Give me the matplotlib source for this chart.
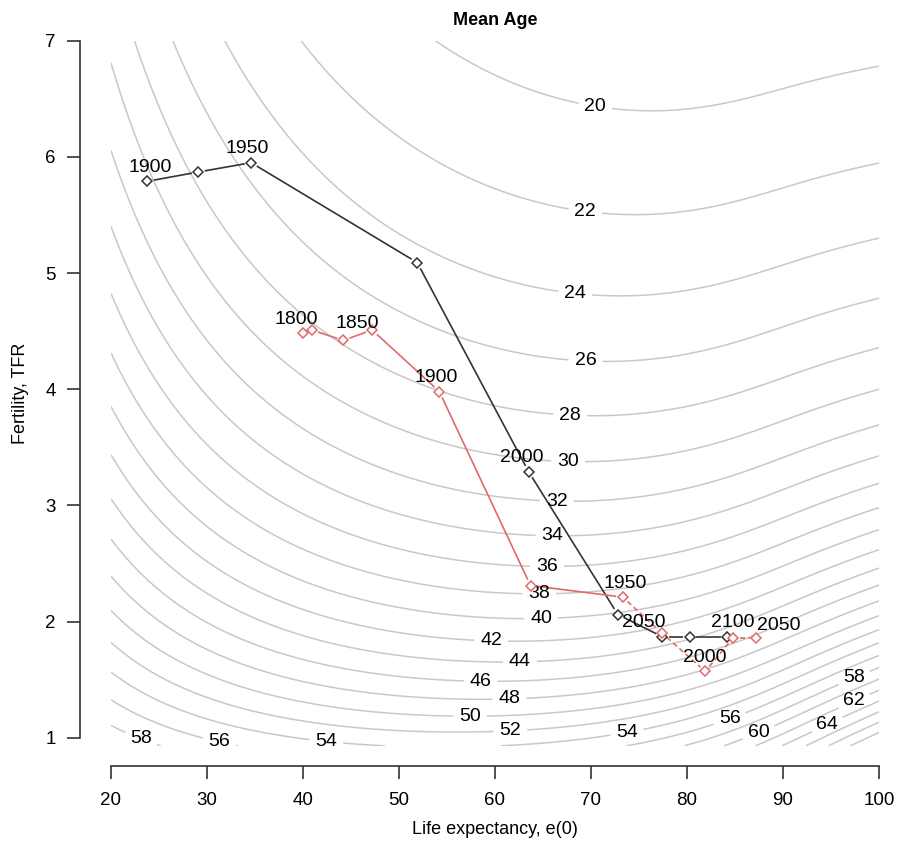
import numpy as np
import matplotlib
matplotlib.use("Agg")
import matplotlib.pyplot as plt

plt.rcParams['font.family'] = ['Liberation Sans', 'DejaVu Sans']

# ---------------- data ----------------
black_years = [1900, 1925, 1950, 1975, 2000, 2025, 2050, 2075, 2100]
black_e0 = [23.8, 29.1, 34.6, 51.9, 63.5, 72.8, 77.4, 80.3, 84.2]
black_tfr = [5.79, 5.87, 5.95, 5.09, 3.29, 2.06, 1.87, 1.87, 1.87]
black_labeled = [1900, 1950, 2000, 2050, 2100]

red_years = [1800, 1825, 1850, 1875, 1900, 1925, 1950, 1975, 2000, 2025, 2050]
red_e0 = [40.0, 40.9, 44.2, 47.2, 54.2, 63.7, 73.3, 77.4, 81.9, 84.8, 87.2]
red_tfr = [4.48, 4.51, 4.42, 4.51, 3.98, 2.31, 2.21, 1.90, 1.57, 1.86, 1.86]
red_labeled = [1800, 1850, 1900, 1950, 2000, 2050]

# contour labels: value and where it sits
clabel_value = [20, 22, 24, 26, 28, 30, 32, 34, 36, 38, 40, 42, 44, 46, 48, 50, 52,
                54, 56, 58, 54, 56, 60, 64, 62, 58]
clabel_e0 = [70.6, 69.4, 68.3, 69.4, 67.8, 67.6, 66.4, 66.0, 65.4, 64.6, 64.8, 59.6,
             62.6, 58.5, 61.5, 57.4, 61.6, 42.5, 31.4, 23.5, 73.8, 84.5, 87.6, 94.7,
             97.5, 97.5]
clabel_tfr = [6.51, 5.53, 4.79, 4.20, 3.72, 3.32, 2.96, 2.67, 2.39, 2.16, 1.97, 1.80,
              1.63, 1.46, 1.32, 1.19, 1.07, 1.02, 1.00, 1.07, 1.02, 1.15, 1.02, 1.10,
              1.30, 1.50]

contour_levels = list(range(16, 72, 2))

x_ticks = [20, 30, 40, 50, 60, 70, 80, 90, 100]
y_ticks = [1, 2, 3, 4, 5, 6, 7]

# ------------- stable-population model for the background surface -------------
dx = 0.5
ages = np.arange(0, 115, dx) + dx / 2


def model_mean_age(params, e0s, tfrs):
    m, a1, b2, beta, b1, sd = params
    a2 = b2 * np.exp(-b2 * 80.0)
    H = a1 / b1 * (1 - np.exp(-b1 * ages)) + 0.0015 * ages + a2 / b2 * (np.exp(b2 * ages) - 1)
    ls = np.clip(np.exp(-H), 1e-12, 1 - 1e-12)
    Ys = 0.5 * np.log((1 - ls) / ls)
    e0s = np.asarray(e0s, float)
    tfrs = np.asarray(tfrs, float)
    lo = np.full(e0s.shape, -10.0)
    hi = np.full(e0s.shape, 10.0)
    for _ in range(45):
        mid = 0.5 * (lo + hi)
        lx = 1.0 / (1.0 + np.exp(np.clip(2 * (mid[:, None] + beta * Ys[None, :]), -50, 50)))
        ok = lx.sum(axis=1) * dx > e0s
        lo = np.where(ok, mid, lo)
        hi = np.where(ok, hi, mid)
    alpha = 0.5 * (lo + hi)
    lx = 1.0 / (1.0 + np.exp(np.clip(2 * (alpha[:, None] + beta * Ys[None, :]), -50, 50)))
    fert = np.exp(-0.5 * ((ages - m) / sd) ** 2)
    fert[(ages < 15) | (ages > 50)] = 0
    fert /= fert.sum() * dx
    net = fert[None, :] * lx * dx * 0.4878
    rlo = np.full(e0s.shape, -0.3)
    rhi = np.full(e0s.shape, 0.3)
    for _ in range(45):
        mid = 0.5 * (rlo + rhi)
        phi = tfrs * (net * np.exp(-mid[:, None] * ages[None, :])).sum(axis=1)
        big = phi > 1
        rlo = np.where(big, mid, rlo)
        rhi = np.where(big, rhi, mid)
    r = 0.5 * (rlo + rhi)
    c = np.exp(-r[:, None] * ages[None, :]) * lx
    return (c * ages[None, :]).sum(axis=1) / c.sum(axis=1)


def misfit(p):
    v = model_mean_age(p, clabel_e0, clabel_tfr)
    return np.sum((v - np.array(clabel_value)) ** 2)


grids = [np.linspace(23, 31, 9), np.linspace(0.02, 0.4, 9),
         np.linspace(0.06, 0.14, 9), np.linspace(0.6, 1.4, 9),
         np.linspace(0.3, 2.0, 9), np.linspace(4.5, 8.0, 8)]
lower = [20, 0.005, 0.03, 0.3, 0.1, 3.0]
params = [28.0, 0.12, 0.1, 1.0, 1.0, 6.0]
for sweep in range(4):
    for k in range(len(params)):
        best = None
        for v in grids[k]:
            trial = list(params)
            trial[k] = v
            f = misfit(trial)
            if best is None or f < best[0]:
                best = (f, v)
        params[k] = best[1]
    grids = [np.clip(np.linspace(p - (g[1] - g[0]) * 2, p + (g[1] - g[0]) * 2, 9), lb, None)
             for p, g, lb in zip(params, grids, lower)]

e0_grid = np.linspace(20, 100, 161)
tfr_grid = np.linspace(0.93, 7.0, 122)
E, F = np.meshgrid(e0_grid, tfr_grid)
meanage = model_mean_age(params, E.ravel(), F.ravel()).reshape(E.shape)

# ---------------- figure ----------------
fig = plt.figure(figsize=(9.06, 8.43), dpi=100)
ax = fig.add_axes([0.1225, 0.1153, 0.8477, 0.8364])
ax.set_xlim(20, 100)
ax.set_ylim(0.93, 7.0)

cs = ax.contour(E, F, meanage, levels=contour_levels, colors='#c8c8c8', linewidths=1.1)
labels = ax.clabel(cs, manual=list(zip(clabel_e0, clabel_tfr)), inline=True, fmt='%d',
                   fontsize=14, colors='black', inline_spacing=6)
for t in labels:
    t.set_rotation(0)
    t.set_clip_on(False)


def gapped(xs, ys, color, styles, gap=6.5):
    pts = ax.transData.transform(np.column_stack([xs, ys]))
    inv = ax.transData.inverted()
    for i in range(len(xs) - 1):
        p0, p1 = pts[i], pts[i + 1]
        d = p1 - p0
        L = np.hypot(*d)
        if L <= 2 * gap:
            continue
        u = d / L
        a = inv.transform(p0 + u * gap)
        b = inv.transform(p1 - u * gap)
        ax.plot([a[0], b[0]], [a[1], b[1]], color=color, lw=1.2, ls=styles[i],
                solid_capstyle='butt', zorder=3)


fig.canvas.draw()
gapped(black_e0, black_tfr, '#333333', ['-'] * 8)
gapped(red_e0, red_tfr, '#e06a6a', ['-'] * 6 + [(0, (3, 2))] * 4)

ax.plot(black_e0, black_tfr, ls='none', marker='D', ms=5.5, mfc='white', mec='#333333',
        mew=1.1, zorder=4)
ax.plot(red_e0, red_tfr, ls='none', marker='D', ms=5.5, mfc='white', mec='#e06a6a',
        mew=1.1, zorder=4)

black_off = {1900: (2, 4), 1950: (-3, 4), 2000: (-5, 4), 2050: (-13, 4), 2100: (4, 4)}
red_off = {1800: (-5, 4), 1850: (10, 6), 1900: (-2, 4), 1950: (2, 4), 2000: (0, 4),
           2050: (16, 3)}
for yr, e, t in zip(black_years, black_e0, black_tfr):
    if yr in black_labeled:
        ax.annotate(str(yr), (e, t), xytext=black_off[yr], textcoords='offset points',
                    ha='center', va='bottom', fontsize=14, zorder=5)
for yr, e, t in zip(red_years, red_e0, red_tfr):
    if yr in red_labeled:
        ax.annotate(str(yr), (e, t), xytext=red_off[yr], textcoords='offset points',
                    ha='center', va='bottom', fontsize=14, zorder=5)

for s in ['top', 'right']:
    ax.spines[s].set_visible(False)
ax.spines['left'].set_position(('outward', 22.3))
ax.spines['bottom'].set_position(('outward', 14.5))
ax.spines['left'].set_bounds(1, 7)
ax.spines['bottom'].set_bounds(20, 100)
for s in ['left', 'bottom']:
    ax.spines[s].set_color('#333333')
    ax.spines[s].set_linewidth(1.2)
ax.set_xticks(x_ticks)
ax.set_yticks(y_ticks)
ax.tick_params(direction='out', length=9.5, width=1.2, colors='#333333',
               labelsize=13.5, labelcolor='black')
ax.tick_params(axis='x', pad=9)
ax.tick_params(axis='y', pad=8)
ax.set_xlabel('Life expectancy, e(0)', fontsize=13, labelpad=9)
ax.set_ylabel('Fertility, TFR', fontsize=13, labelpad=12)
ax.set_title('Mean Age', fontsize=13, fontweight='bold', pad=11)

fig.savefig('out.png', dpi=100)
